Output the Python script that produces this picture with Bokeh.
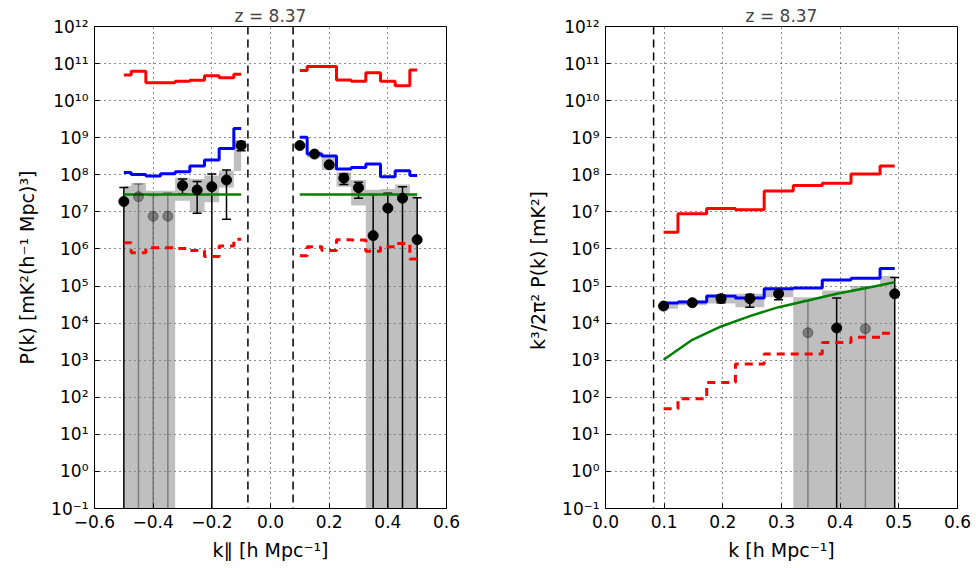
from bokeh.plotting import figure
from bokeh.layouts import row
from bokeh.models import Range1d, FixedTicker, CustomJSTickFormatter, Span
from bokeh.embed import file_html
from bokeh.resources import INLINE

FLOOR = 1e-3  # stands for "down to the bottom of the axis"

# ---------------- left panel: P(k_parallel) ----------------
kpar_neg = [-0.50, -0.45, -0.40, -0.35, -0.30, -0.25, -0.20, -0.15, -0.10]
neg_logP = [7.28, 7.41, 6.88, 6.88, 7.71, 7.59, 7.68, 7.86, 8.79]
neg_is_pos = [True, False, False, False, True, True, True, True, True]
neg_err_hi = [7.66, 7.75, 7.44, 7.51, 7.89, 7.82, 8.02, 8.13, 8.90]
neg_err_lo = [None, None, None, None, 7.48, 6.96, None, 6.80, 8.65]
neg_band_hi = [7.70, 7.78, 7.57, 7.57, 7.92, 7.89, 7.98, 8.11, 8.92]
neg_band_lo = [None, None, None, None, 7.30, 6.99, 7.26, 7.66, 8.10]
neg_red = [10.69, 10.79, 10.48, 10.48, 10.52, 10.55, 10.67, 10.62, 10.71]
neg_blue = [8.06, 8.01, 7.97, 8.03, 8.08, 8.24, 8.40, 8.71, 9.25]
neg_green = [7.47, 7.47, 7.47, 7.47, 7.47, 7.47, 7.47, 7.47, 7.47]
neg_reddash = [6.17, 5.90, 6.03, 6.03, 6.01, 5.96, 5.80, 6.08, 6.26]

kpar_pos = [0.10, 0.15, 0.20, 0.25, 0.30, 0.35, 0.40, 0.45, 0.50]
pos_logP = [8.79, 8.56, 8.27, 7.91, 7.65, 6.36, 7.10, 7.37, 6.25]
pos_is_pos = [True, True, True, True, True, True, True, True, True]
pos_err_hi = [8.82, 8.59, 8.30, 8.02, 7.80, 7.47, 7.50, 7.68, 7.38]
pos_err_lo = [8.76, 8.53, 8.24, 7.74, 7.37, None, None, None, None]
pos_band_hi = [8.84, 8.63, 8.47, 8.07, 7.86, 7.60, 7.62, 7.74, 7.49]
pos_band_lo = [8.72, 8.47, 8.13, 7.68, 7.17, None, None, None, None]
pos_red = [10.81, 10.92, 10.92, 10.56, 10.52, 10.75, 10.52, 10.40, 10.83]
pos_blue = [9.01, 8.56, 8.51, 8.16, 8.20, 8.29, 7.95, 8.11, 7.98]
pos_green = [7.47, 7.47, 7.47, 7.47, 7.47, 7.47, 7.47, 7.47, 7.47]
pos_reddash = [5.82, 6.06, 5.96, 6.25, 6.24, 5.94, 6.06, 6.15, 5.73]

horizon_left = [-0.077, 0.077]

# ---------------- right panel: Delta^2(k) ----------------
k_sph = [0.099, 0.148, 0.197, 0.246, 0.295, 0.345, 0.394, 0.443, 0.493]
sph_logD = [4.46, 4.55, 4.66, 4.66, 4.79, 3.74, 3.87, 3.85, 4.79]
sph_is_pos = [True, True, True, True, True, False, True, False, True]
sph_err_hi = [4.49, 4.58, 4.76, 4.77, 4.91, 4.61, 4.68, 4.97, 5.23]
sph_err_lo = [4.43, 4.52, 4.55, 4.43, 4.63, None, None, None, None]
sph_band_hi = [4.57, 4.61, 4.75, 4.79, 4.95, 4.70, 4.88, 5.00, 5.27]
sph_band_lo = [4.39, 4.48, 4.53, 4.43, 4.70, None, None, None, None]
sph_red = [6.45, 6.95, 7.09, 7.06, 7.56, 7.71, 7.77, 8.02, 8.24]
sph_blue = [4.54, 4.57, 4.73, 4.68, 4.93, 4.95, 5.16, 5.21, 5.47]
sph_green = [3.01, 3.55, 3.91, 4.19, 4.43, 4.61, 4.79, 4.94, 5.10]
sph_reddash = [1.69, 1.96, 2.40, 2.90, 3.17, 3.17, 3.48, 3.62, 3.73]

horizon_right = [0.082]

y_ticks = [1e-1, 1e0, 1e1, 1e2, 1e3, 1e4, 1e5, 1e6, 1e7, 1e8, 1e9, 1e10, 1e11, 1e12]
x_ticks_left = [-0.6, -0.4, -0.2, 0.0, 0.2, 0.4, 0.6]
x_ticks_right = [0.0, 0.1, 0.2, 0.3, 0.4, 0.5, 0.6]
title_text = "z = 8.37"

FONT = "DejaVu Sans"

def lin(v):
    return [FLOOR if x is None else 10 ** x for x in v]

YFMT = CustomJSTickFormatter(code="""
const e = Math.round(Math.log10(tick));
const m = {"-":"⁻","0":"⁰","1":"¹","2":"²","3":"³","4":"⁴","5":"⁵","6":"⁶","7":"⁷","8":"⁸","9":"⁹"};
let s = "";
for (const c of String(e)) { s += m[c]; }
return "10" + s;
""")

XFMT = CustomJSTickFormatter(code="""
const v = Math.abs(tick) < 1e-9 ? 0 : tick;
return (v < 0 ? "\u2212" : "") + Math.abs(v).toFixed(1);
""")


def make_fig(xr, xticks, xlabel, ylabel, bl, br):
    p = figure(frame_width=352, frame_height=482, x_range=Range1d(*xr),
               y_range=Range1d(1e-1, 1e12), y_axis_type="log",
               output_backend="svg", toolbar_location=None,
               min_border_left=bl, min_border_right=br,
               min_border_top=26, min_border_bottom=60, title=title_text)
    p.title.align = "center"
    p.title.text_font = FONT
    p.title.text_font_size = "17px"
    p.title.text_font_style = "normal"
    p.title.standoff = 2
    p.outline_line_color = "black"
    p.outline_line_width = 1
    p.background_fill_color = "white"
    p.border_fill_color = "white"
    p.xaxis.ticker = FixedTicker(ticks=xticks, minor_ticks=[])
    p.yaxis.ticker = FixedTicker(ticks=y_ticks, minor_ticks=[])
    p.xgrid.ticker = FixedTicker(ticks=xticks, minor_ticks=[])
    p.ygrid.ticker = FixedTicker(ticks=y_ticks, minor_ticks=[])
    p.xaxis.formatter = XFMT
    p.yaxis.formatter = YFMT
    for ax in (p.xaxis, p.yaxis):
        ax.major_tick_in = 5
        ax.major_tick_out = 0
        ax.minor_tick_line_color = None
        ax.axis_line_color = "black"
        ax.major_label_text_font = FONT
        ax.major_label_text_font_size = "17px"
        ax.major_label_text_color = "black"
        ax.axis_label_text_font = FONT
        ax.axis_label_text_font_size = "19px"
        ax.axis_label_text_font_style = "normal"
        ax.axis_label_text_color = "black"
    p.xaxis.major_label_standoff = 6
    p.yaxis.major_label_standoff = 6
    p.xaxis.axis_label = xlabel
    p.yaxis.axis_label = ylabel
    p.xaxis.axis_label_standoff = 8
    p.yaxis.axis_label_standoff = 10
    for g in (p.xgrid, p.ygrid):
        g.grid_line_color = "black"
        g.grid_line_dash = "1 4"
        g.grid_line_width = 1
        g.grid_line_alpha = 0.9
    return p


def draw_series(p, k, logP, is_pos, err_hi, err_lo, band_hi, band_lo,
                red, blue, green, reddash, green_step=True):
    p.varea_step(x=k, y1=lin(band_lo), y2=lin(band_hi), step_mode="center",
                 fill_color="gray", fill_alpha=0.5)
    # error bars
    for pos_flag, col, alpha in ((True, "black", 1.0), (False, "black", 0.35)):
        idx = [i for i in range(len(k)) if is_pos[i] == pos_flag]
        if not idx:
            continue
        xs = [k[i] for i in idx]
        lo = lin([err_lo[i] for i in idx])
        hi = lin([err_hi[i] for i in idx])
        p.segment(x0=xs, y0=lo, x1=xs, y1=hi, line_color=col, line_alpha=alpha, line_width=1.5)
        p.scatter(x=xs, y=hi, marker="dash", size=9, line_color=col, line_alpha=alpha, line_width=1.5)
        p.scatter(x=xs, y=lo, marker="dash", size=9, line_color=col, line_alpha=alpha, line_width=1.5)
    p.step(x=k, y=lin(red), mode="center", line_color="red", line_width=3)
    p.step(x=k, y=lin(blue), mode="center", line_color="blue", line_width=3)
    if green_step:
        p.step(x=k, y=lin(green), mode="center", line_color="green", line_width=2.5)
    else:
        p.line(x=k, y=lin(green), line_color="green", line_width=2.5)
    p.step(x=k, y=lin(reddash), mode="center", line_color="red", line_width=3, line_dash="8 6")
    for pos_flag, alpha in ((True, 1.0), (False, 0.35)):
        idx = [i for i in range(len(k)) if is_pos[i] == pos_flag]
        if not idx:
            continue
        p.scatter(x=[k[i] for i in idx], y=lin([logP[i] for i in idx]), size=10,
                  fill_color="black", line_color="black", fill_alpha=alpha, line_alpha=alpha)


p1 = make_fig((-0.6, 0.6), x_ticks_left, "k∥ [h Mpc⁻¹]", "P(k) [mK²(h⁻¹ Mpc)³]", 94, 64)
draw_series(p1, kpar_neg, neg_logP, neg_is_pos, neg_err_hi, neg_err_lo, neg_band_hi, neg_band_lo,
            neg_red, neg_blue, neg_green, neg_reddash)
draw_series(p1, kpar_pos, pos_logP, pos_is_pos, pos_err_hi, pos_err_lo, pos_band_hi, pos_band_lo,
            pos_red, pos_blue, pos_green, pos_reddash)
for h in horizon_left:
    p1.add_layout(Span(location=h, dimension="height", line_color="black", line_width=1.5, line_dash="8 5"))

p2 = make_fig((0.0, 0.6), x_ticks_right, "k [h Mpc⁻¹]", "k³/2π²  P(k) [mK²]", 95, 19)
draw_series(p2, k_sph, sph_logD, sph_is_pos, sph_err_hi, sph_err_lo, sph_band_hi, sph_band_lo,
            sph_red, sph_blue, sph_green, sph_reddash, green_step=False)
for h in horizon_right:
    p2.add_layout(Span(location=h, dimension="height", line_color="black", line_width=1.5, line_dash="8 5"))

layout = row(p1, p2)
open("out.html", "w").write(file_html(layout, INLINE))
